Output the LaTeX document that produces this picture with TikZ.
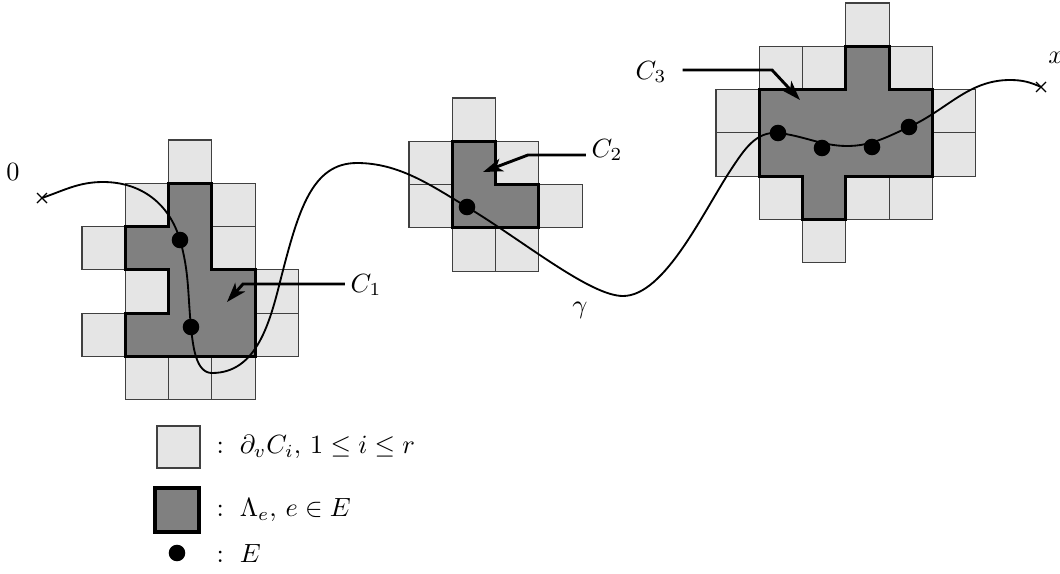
\documentclass[tikz,border=0pt]{standalone}
\usetikzlibrary{arrows.meta}
\begin{document}
\begin{tikzpicture}[x=0.38pt,y=-0.38pt,
  lightcell/.style={fill=gray!20, draw=black!75, line width=0.4pt},
  darkregion/.style={fill=gray, draw=black, line width=1.2pt, line join=miter},
  edot/.style={circle, fill=black, inner sep=0pt, minimum size=6.3pt},
  pointer/.style={line width=1.1pt, -{Stealth[length=7.5pt, width=5pt, inset=2pt]}},
  gammapath/.style={line width=0.7pt},
  crossmark/.style={line width=0.5pt},
  lbl/.style={inner sep=2pt}]
\useasboundingbox (0,0) rectangle (1060,573);

% ---------- C1 ----------
\begin{scope}[shift={(82,140)}, x=16.454pt, y=-16.454pt]
  \foreach \c/\r in {2/0,1/1,3/1,0/2,3/2,1/3,4/3,0/4,4/4,1/5,2/5,3/5}
    \draw[lightcell] (\c,\r) rectangle ++(1,1);
  \filldraw[darkregion] (2,1) -- (3,1) -- (3,3) -- (4,3) -- (4,5) -- (1,5) -- (1,4)
    -- (2,4) -- (2,3) -- (1,3) -- (1,2) -- (2,2) -- cycle;
\end{scope}

% ---------- C2 ----------
\begin{scope}[shift={(409,98)}, x=16.454pt, y=-16.454pt]
  \foreach \c/\r in {1/0,0/1,2/1,0/2,3/2,1/3,2/3}
    \draw[lightcell] (\c,\r) rectangle ++(1,1);
  \filldraw[darkregion] (1,1) -- (2,1) -- (2,2) -- (3,2) -- (3,3) -- (1,3) -- cycle;
\end{scope}

% ---------- C3 ----------
\begin{scope}[shift={(716,3)}, x=16.454pt, y=-16.454pt]
  \foreach \c/\r in {3/0,1/1,2/1,4/1,0/2,5/2,0/3,5/3,1/4,3/4,4/4,2/5}
    \draw[lightcell] (\c,\r) rectangle ++(1,1);
  \filldraw[darkregion] (3,1) -- (4,1) -- (4,2) -- (5,2) -- (5,4) -- (3,4) -- (3,5)
    -- (2,5) -- (2,4) -- (1,4) -- (1,2) -- (3,2) -- cycle;
\end{scope}

% ---------- path gamma ----------
\coordinate (start) at (42,198);
\coordinate (finish) at (1041,87);
\draw[gammapath] (start)
  .. controls (64.7,190.1) and (79,182) .. (103,182)
  .. controls (141,182) and (169.4,203.5) .. (180,240)
  .. controls (189.2,271.7) and (187.7,294) .. (191,327)
  .. controls (193,347) and (196,373) .. (212,373)
  .. controls (257,373) and (270,322) .. (281,278)
  .. controls (298.5,210) and (312,163) .. (357,163)
  .. controls (399,163) and (431,185.4) .. (467,207)
  .. controls (522.7,240.4) and (590,296) .. (623,296)
  .. controls (665,296) and (704,210) .. (732,168)
  .. controls (744,150) and (756,131) .. (778,133)
  .. controls (803,135.5) and (822,146) .. (847,146)
  .. controls (871,146) and (887,137) .. (909,127)
  .. controls (947,110) and (968,80) .. (1010,80)
  .. controls (1022,80) and (1030,82) .. (finish);
\draw[crossmark] (start) +(-5,-5) -- +(5,5) +(-5,5) -- +(5,-5);
\draw[crossmark] (finish) +(-5,-5) -- +(5,5) +(-5,5) -- +(5,-5);

% ---------- points of E ----------
\node[edot] (e1) at (180,240) {};
\node[edot] (e2) at (191,327) {};
\node[edot] (e3) at (467,207) {};
\node[edot] (e4) at (778,133) {};
\node[edot] (e5) at (822,148) {};
\node[edot] (e6) at (872,147) {};
\node[edot] (e7) at (909,127) {};

% ---------- labels ----------
\node[lbl] (l0) at (13,172) {$0$};
\node[lbl] (lx) at (1056,58) {$x$};
\node[lbl] (lg) at (580,310) {$\gamma$};
\node[lbl] (lC1) at (366,285) {$C_1$};
\node[lbl] (lC2) at (607,150) {$C_2$};
\node[lbl] (lC3) at (651,72) {$C_3$};

% ---------- pointers ----------
\coordinate (b1) at (243,284);
\coordinate (t1) at (227,302);
\draw[pointer] (lC1.west |- b1) -- (b1) -- (t1);
\coordinate (b2) at (528,155);
\coordinate (t2) at (483,172);
\draw[pointer] (lC2.west |- b2) -- (b2) -- (t2);
\coordinate (b3) at (772,70);
\coordinate (t3) at (800,100);
\coordinate (s3) at ([xshift=4pt]lC3.east);
\draw[pointer] (s3 |- b3) -- (b3) -- (t3);

% ---------- legend ----------
\draw[lightcell] (157,426) rectangle (200,468);
\node[anchor=west, inner sep=0pt] (leg1) at (216,447) {$:\ \partial_v C_i,\, 1\le i\le r$};
\filldraw[darkregion] (155,488) rectangle (199,532);
\node[anchor=west, inner sep=0pt] (leg2) at (216,510) {$:\ \Lambda_e,\, e\in E$};
\node[edot] (legdot) at (177,553) {};
\node[anchor=west, inner sep=0pt] (leg3) at (216,553) {$:\ E$};
\end{tikzpicture}
\end{document}
